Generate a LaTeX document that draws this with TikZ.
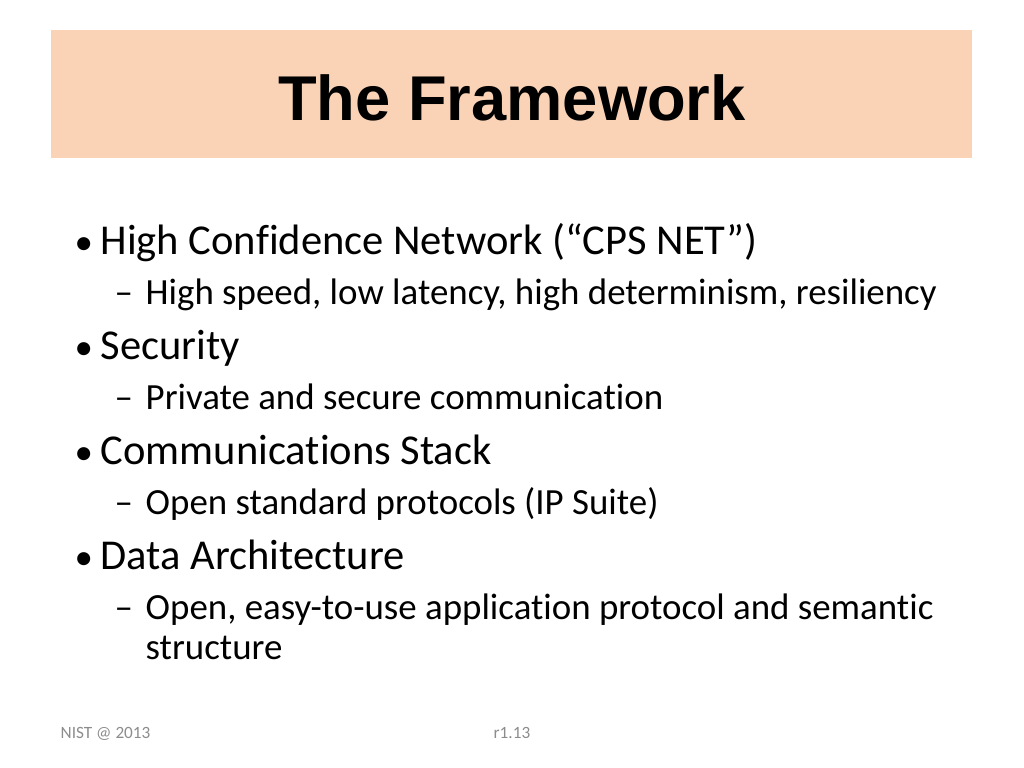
\documentclass[tikz,border=0pt]{standalone}
\usepackage{fontspec}
\setmainfont[Ligatures={NoCommon}]{Carlito}
\newfontfamily\titlefont{Liberation Sans}
\definecolor{peach}{HTML}{FAD3B7}
\definecolor{footgray}{HTML}{8C8C8C}
\tikzset{
  itemone/.style={anchor=base west, inner sep=0pt, font=\fontsize{12.1pt}{14pt}\selectfont},
  itemtwo/.style={anchor=base west, inner sep=0pt, font=\fontsize{10.5pt}{12.5pt}\selectfont},
  foot/.style={anchor=base west, inner sep=0pt, text=footgray, font=\fontsize{4.9pt}{5pt}\selectfont},
}
\begin{document}
\begin{tikzpicture}
\useasboundingbox (0,0) rectangle (10.24,7.68);

% title band
\fill[peach] (0.51,6.10) rectangle (9.72,7.38);
\node (title) at (5.12,6.70) {\titlefont\bfseries\fontsize{18pt}{20pt}\selectfont The Framework};

% first level
\node[itemtwo] (b1) at (0.74,5.13) {•};
\node[itemone] (t1) at (1.00,5.13) {High Confidence Network (“CPS NET”)};
\node[itemtwo] (b2) at (0.74,4.08) {•};
\node[itemone] (t2) at (1.00,4.08) {Security};
\node[itemtwo] (b3) at (0.74,3.03) {•};
\node[itemone] (t3) at (1.00,3.03) {Communications Stack};
\node[itemtwo] (b4) at (0.74,1.98) {•};
\node[itemone] (t4) at (1.00,1.98) {Data Architecture};

% second level
\node[itemtwo] (d1) at (1.14,4.63) {–};
\node[itemtwo] (s1) at (1.45,4.63) {High speed, low latency, high determinism, resiliency};
\node[itemtwo] (d2) at (1.14,3.58) {–};
\node[itemtwo] (s2) at (1.45,3.58) {Private and secure communication};
\node[itemtwo] (d3) at (1.14,2.53) {–};
\node[itemtwo] (s3) at (1.45,2.53) {Open standard protocols (IP Suite)};
\node[itemtwo] (d4) at (1.14,1.48) {–};
\node[itemtwo] (s4) at (1.45,1.48) {Open, easy-to-use application protocol and semantic};
\node[itemtwo] (s5) at (1.45,1.08) {structure};

% footer
\node[foot] (f1) at (0.60,0.29) {NIST @ 2013};
\node[foot] (f2) at (4.93,0.29) {r1.13};
\end{tikzpicture}
\end{document}
